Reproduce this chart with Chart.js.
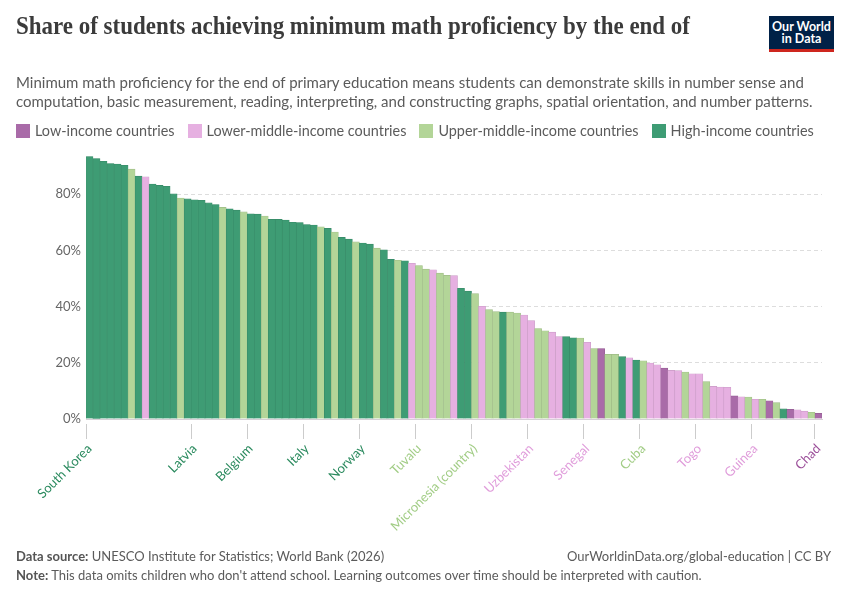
<!DOCTYPE html>
<html>
<head>
<meta charset="utf-8">
<script src="https://cdn.jsdelivr.net/npm/chart.js@4"></script>
<style>
  html, body { margin: 0; padding: 0; background: #fff; }
  body { width: 850px; height: 600px; position: relative; overflow: hidden; font-family: Lato, "Noto Sans", sans-serif; }
  #chart { position: absolute; left: 0; top: 0; }
  .abs { position: absolute; white-space: nowrap; }
  #title { left: 16px; top: 10px; font-family: "Liberation Serif", "DejaVu Serif", serif; font-weight: bold; font-size: 25px; line-height: 32px; color: #3b3b3b; transform-origin: 0 0; }
  #subtitle { left: 16px; top: 73px; font-size: 15px; line-height: 18.5px; color: #5b5b5b; }
  #legend { left: 16px; top: 122px; font-size: 14.4px; line-height: 18px; color: #5b5b5b; display: flex; }
  .li { display: flex; align-items: center; margin-right: 13px; }
  .sw { width: 14px; height: 14px; margin-right: 5px; }
  #logo { left: 769px; top: 16px; width: 65px; background: #002147; border-bottom: 3px solid #ce261e; color: #fff; text-align: center; font-size: 12.5px; line-height: 12px; font-weight: bold; padding-top: 5px; box-sizing: content-box; height: 28px; }
  .foot { font-size: 13px; line-height: 16px; color: #5b5b5b; }
  .foot b { color: #555; }
</style>
</head>
<body>
<canvas id="chart" width="850" height="600"></canvas>
<div id="title" class="abs">Share of students achieving minimum math proficiency by the end of</div>
<div id="logo" class="abs">Our World<br>in Data</div>
<div id="subtitle" class="abs">Minimum math proficiency for the end of primary education means students can demonstrate skills in number sense and<br>computation, basic measurement, reading, interpreting, and constructing graphs, spatial orientation, and number patterns.</div>
<div id="legend" class="abs"></div>
<div class="abs foot" style="left:16px; top:548px;"><b>Data source:</b> UNESCO Institute for Statistics; World Bank (2026)</div>
<div class="abs foot" style="right:19px; top:548px;">OurWorldinData.org/global-education | CC BY</div>
<div class="abs foot" style="left:16px; top:567px;"><b>Note:</b> This data omits children who don't attend school. Learning outcomes over time should be interpreted with caution.</div>
<script>
// ---- data ----
const incomeGroups = ["Low-income countries", "Lower-middle-income countries", "Upper-middle-income countries", "High-income countries"];
const groupCodes = ["L", "M", "U", "H"];
const groupFill = { L: "#a96ba8", M: "#e6b0e1", U: "#b3d598", H: "#3e9c74" };
const groupLabel = { L: "#9b4e99", M: "#e09ddb", U: "#a2cd86", H: "#2a8a5e" };
const groupSwatch = { L: "#a96ba8", M: "#e6b0e1", U: "#b3d598", H: "#3e9c74" };

const values = [
  93.4, 92.7, 91.7, 90.9, 90.7, 90.3, 88.9, 86.4, 86.2, 83.6,
  83.1, 82.8, 80.1, 78.6, 78.3, 78.0, 77.8, 76.9, 76.3, 75.3,
  74.8, 74.3, 73.7, 73.0, 72.9, 72.2, 71.0, 71.0, 70.8, 70.0,
  69.9, 69.2, 69.0, 68.4, 67.8, 66.5, 64.6, 64.0, 63.0, 62.6,
  62.2, 60.8, 60.2, 56.8, 56.5, 56.3, 55.4, 54.6, 53.3, 53.1,
  51.9, 51.1, 51.0, 46.5, 45.5, 44.6, 40.1, 38.9, 38.2, 38.0,
  38.0, 37.7, 37.0, 35.0, 32.2, 31.4, 30.9, 29.3, 29.3, 28.9,
  28.8, 27.3, 25.1, 25.1, 23.0, 23.0, 22.2, 21.8, 21.0, 20.7,
  19.9, 19.3, 18.1, 17.3, 17.2, 16.7, 16.1, 16.1, 13.3, 11.6,
  11.4, 11.3, 8.2, 7.9, 7.8, 7.0, 7.0, 6.5, 5.8, 3.6,
  3.4, 3.3, 2.8, 2.4, 2.0
];
const groups = [
  "H","H","H","H","H","H","U","H","M","H",
  "H","H","H","U","H","H","H","H","H","U",
  "H","H","U","H","H","U","H","H","H","H",
  "H","H","H","U","H","U","H","H","U","H",
  "H","U","H","H","U","H","M","U","U","M",
  "U","U","M","H","H","U","M","U","U","H",
  "U","U","M","M","U","U","M","M","H","H",
  "U","M","U","L","U","U","H","M","H","U",
  "M","M","L","M","M","U","M","M","U","M",
  "M","M","L","M","U","M","U","L","U","H",
  "L","M","M","U","L"
];
const labeledCountries = ["South Korea", "Latvia", "Belgium", "Italy", "Norway", "Tuvalu", "Micronesia (country)", "Uzbekistan", "Senegal", "Cuba", "Togo", "Guinea", "Chad"];
const labeledIndex = [0, 15, 23, 31, 39, 47, 55, 63, 71, 79, 87, 95, 104];
const yTicks = [0, 20, 40, 60, 80];

const categories = values.map((v, i) => {
  const k = labeledIndex.indexOf(i);
  return k >= 0 ? labeledCountries[k] : "";
});

// legend
const legendEl = document.getElementById("legend");
groupCodes.forEach((c, i) => {
  const d = document.createElement("div");
  d.className = "li";
  d.innerHTML = '<span class="sw" style="background:' + groupSwatch[c] + '"></span>' + incomeGroups[i];
  legendEl.appendChild(d);
});

// fit title width
const t = document.getElementById("title");
const tw = t.getBoundingClientRect().width;
t.style.transform = "scaleX(" + (674 / tw) + ")";

function darker(hex, f) {
  const n = parseInt(hex.slice(1), 16);
  const r = Math.round(((n >> 16) & 255) * f), g = Math.round(((n >> 8) & 255) * f), b = Math.round((n & 255) * f);
  return "rgb(" + r + "," + g + "," + b + ")";
}

new Chart(document.getElementById("chart"), {
  type: "bar",
  data: {
    labels: categories,
    datasets: [{
      data: values,
      backgroundColor: groups.map(g => groupFill[g]),
      borderColor: groups.map(g => darker(groupFill[g], 0.88)),
      borderWidth: 0.6,
      barPercentage: 1,
      categoryPercentage: 1
    }]
  },
  options: {
    responsive: false,
    animation: false,
    devicePixelRatio: 1,
    layout: { padding: { left: 0, right: 28, top: 152, bottom: 0 } },
    plugins: { legend: { display: false }, tooltip: { enabled: false } },
    scales: {
      x: {
        offset: true,
        afterFit: s => { s.height = 181; },
        border: { display: true, color: "#d6d0d6", width: 1 },
        grid: {
          drawOnChartArea: false,
          drawTicks: true,
          tickLength: 20,
          tickWidth: 1,
          tickBorderDash: [16, 4],
          tickBorderDashOffset: 16,
          tickColor: ctx => (categories[ctx.index] ? "#cccccc" : "rgba(0,0,0,0)")
        },
        ticks: {
          autoSkip: false,
          minRotation: 45,
          maxRotation: 45,
          padding: 2,
          font: { family: "Lato", size: 13 },
          color: ctx => groupLabel[groups[ctx.index]],
          callback: (v, i) => categories[i]
        }
      },
      y: {
        min: 0,
        max: 95,
        afterFit: s => { s.width = 86; },
        afterBuildTicks: s => { s.ticks = yTicks.map(v => ({ value: v })); },
        border: { display: false, dash: [4, 3] },
        grid: {
          drawTicks: false,
          color: ctx => (ctx.tick && ctx.tick.value === 0 ? "rgba(0,0,0,0)" : "#dddddd"),
          lineWidth: 1
        },
        ticks: {
          padding: 5,
          font: { family: "Lato", size: 13 },
          color: "#666666",
          callback: v => v + "%"
        }
      }
    }
  }
});
</script>
</body>
</html>
